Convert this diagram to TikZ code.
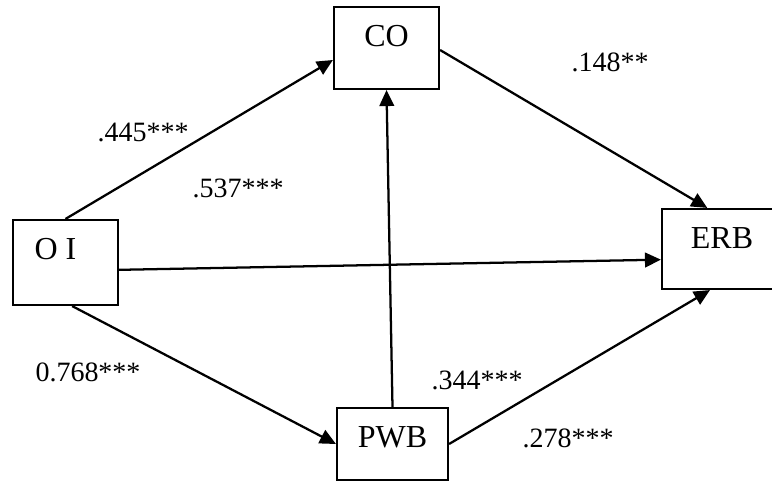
\documentclass[tikz,border=0pt]{standalone}
\usepackage{fontspec}
\setmainfont{Liberation Serif}
\usetikzlibrary{arrows.meta, positioning, calc}

\begin{document}
\begin{tikzpicture}[x=0.75pt, y=-0.75pt,
  varbox/.style={draw, line width=1.6pt, fill=white, inner sep=0pt},
  boxtext/.style={anchor=center, yshift=-22.5pt, inner sep=0pt, font=\fontsize{24}{27}\selectfont},
  coef/.style={inner sep=0pt, font=\fontsize{21}{24}\selectfont},
  link/.style={-{Triangle[length=12pt, width=11pt]}, line width=1.7pt}]
  \useasboundingbox (0,0) rectangle (772,482);

  % Variable boxes
  \node[varbox, minimum width=78.75pt, minimum height=63.75pt, label={[boxtext, xshift=-7.5pt]north:O I}] (oi) at (65.5,262.5) {};
  \node[varbox, minimum width=78.75pt, minimum height=61.5pt, label={[boxtext]north:CO}] (co) at (386.5,48) {};
  \node[varbox, minimum width=96pt, minimum height=60pt, label={[boxtext, xshift=-3pt]north:ERB}] (erb) at (726,249) {};
  \node[varbox, minimum width=83.25pt, minimum height=54pt, label={[boxtext]north:PWB}] (pwb) at (392.5,444) {};

  % Paths
  \draw[link] (oi.north) -- ([yshift=-9pt]co.west);
  \draw[link] ([yshift=-1.5pt]co.east) -- ([xshift=-14pt]erb.north);
  \draw[link] ([yshift=-5.5pt]oi.east) -- ([yshift=-8pt]erb.west);
  \draw[link] ([xshift=5pt]oi.south) -- (pwb.west);
  \draw[link] (pwb.north) -- (co.south);
  \draw[link] (pwb.east) -- ([xshift=-12pt]erb.south);

  % Coefficients
  \node[coef] (c1) at (143,132) {.445***};
  \node[coef] (c2) at (610,62) {.148**};
  \node[coef] (c3) at (238,188) {.537***};
  \node[coef] (c4) at (477,380) {.344***};
  \node[coef] (c5) at (88,372) {0.768***};
  \node[coef] (c6) at (568,438) {.278***};
\end{tikzpicture}
\end{document}
